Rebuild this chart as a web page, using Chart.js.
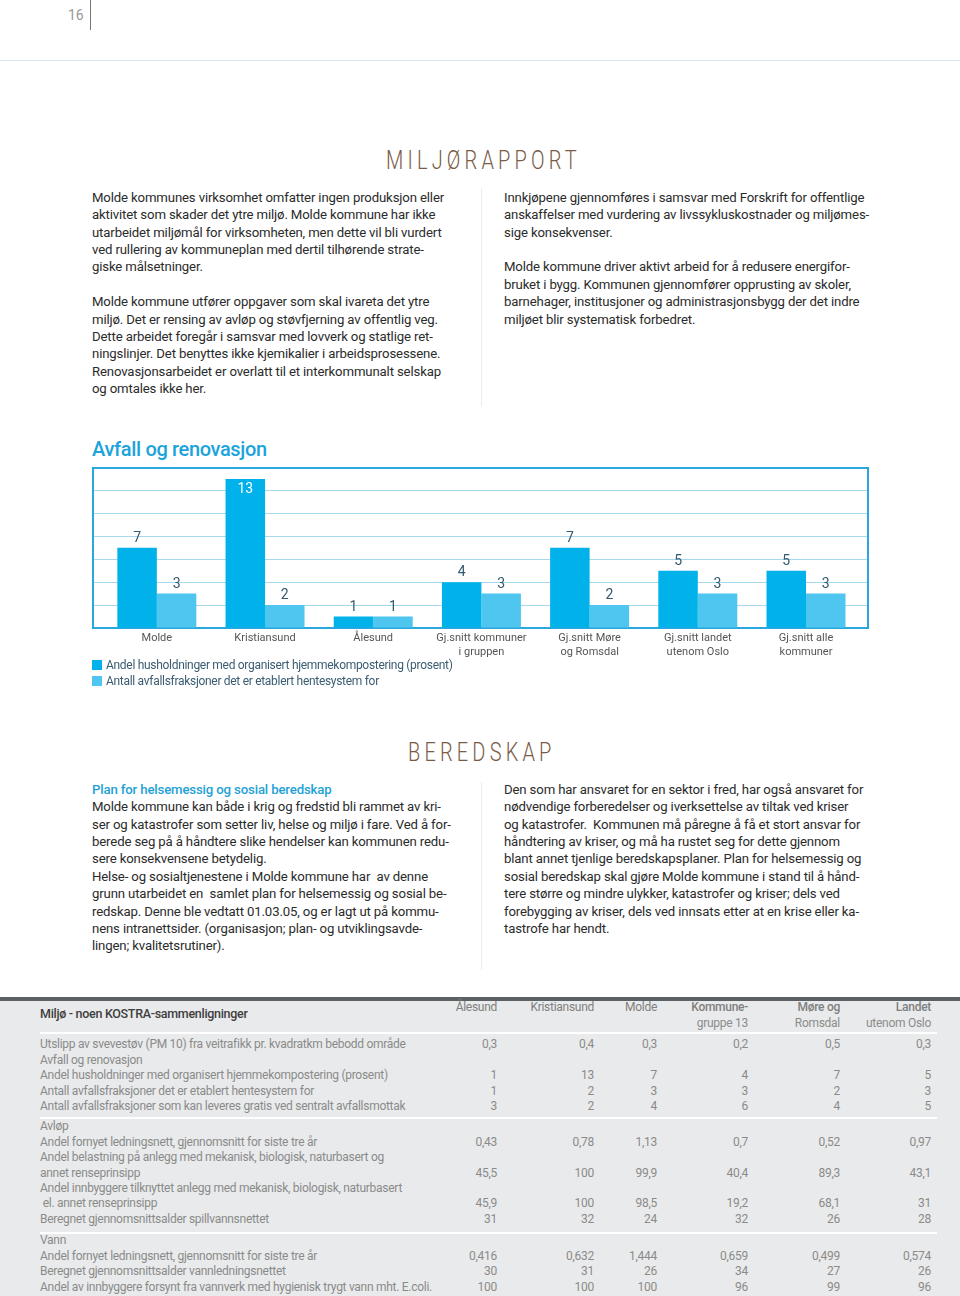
<!DOCTYPE html>
<html lang="no"><head><meta charset="utf-8">
<script src="https://cdn.jsdelivr.net/npm/chart.js@4.4.1/dist/chart.umd.min.js"></script>
<style>
html,body{margin:0;padding:0;background:#fff;}
body{width:960px;height:1296px;position:relative;overflow:hidden;font-family:Roboto,"Open Sans",sans-serif;}
.abs{position:absolute;white-space:nowrap;}
.txt{font-size:13.2px;line-height:17.4px;color:#2b2b2b;letter-spacing:-0.15px;}
.sec{font-size:25px;line-height:25px;font-weight:300;color:#7a5b47;letter-spacing:5.2px;transform:scaleX(0.8);transform-origin:0 0;}
.blue{color:#1ea1d6;font-weight:500;}
.vline{position:absolute;width:1px;background:#ececec;}
.tbl{font-size:12px;line-height:15.4px;color:#8a8a8a;letter-spacing:-0.28px;}
.num{text-align:right;width:90px;}
.leg{font-size:12px;line-height:16px;color:#3b5c72;letter-spacing:-0.3px;}
.sq{position:absolute;width:10px;height:10px;}
</style></head>
<body>
<!-- page header -->
<div class="abs" style="left:68px;top:6px;font-size:14px;line-height:18px;color:#999;">16</div>
<div style="position:absolute;left:90px;top:0;width:1px;height:30px;background:#777;"></div>
<div style="position:absolute;left:0;top:60px;width:960px;height:1px;background:#d9e8f0;"></div>

<div class="abs sec" style="left:386px;top:148px;">MILJØRAPPORT</div>

<div class="abs txt" style="left:92px;top:188.8px;">Molde kommunes virksomhet omfatter ingen produksjon eller<br>aktivitet som skader det ytre miljø. Molde kommune har ikke<br>utarbeidet miljømål for virksomheten, men dette vil bli vurdert<br>ved rullering av kommuneplan med dertil tilhørende strate-<br>giske målsetninger.<br>&nbsp;<br>Molde kommune utfører oppgaver som skal ivareta det ytre<br>miljø. Det er rensing av avløp og støvfjerning av offentlig veg.<br>Dette arbeidet foregår i samsvar med lovverk og statlige ret-<br>ningslinjer. Det benyttes ikke kjemikalier i arbeidsprosessene.<br>Renovasjonsarbeidet er overlatt til et interkommunalt selskap<br>og omtales ikke her.</div>
<div class="vline" style="left:481px;top:188px;height:218px;"></div>
<div class="abs txt" style="left:504px;top:188.8px;">Innkjøpene gjennomføres i samsvar med Forskrift for offentlige<br>anskaffelser med vurdering av livssykluskostnader og miljømes-<br>sige konsekvenser.<br>&nbsp;<br>Molde kommune driver aktivt arbeid for å redusere energifor-<br>bruket i bygg. Kommunen gjennomfører opprusting av skoler,<br>barnehager, institusjoner og administrasjonsbygg der det indre<br>miljøet blir systematisk forbedret.</div>

<!-- chart -->
<div class="abs" style="left:92px;top:436px;font-size:20px;line-height:26px;font-weight:500;color:#1ba3db;letter-spacing:-0.35px;">Avfall og renovasjon</div>
<div style="position:absolute;left:0;top:455px;width:960px;height:215px;"><canvas id="c"></canvas></div>
<div id="legend"></div>

<div class="abs sec" style="left:408px;top:740px;">BEREDSKAP</div>
<div class="abs txt" style="left:92px;top:780.8px;"><span class="blue">Plan for helsemessig og sosial beredskap</span><br>Molde kommune kan både i krig og fredstid bli rammet av kri-<br>ser og katastrofer som setter liv, helse og miljø i fare. Ved å for-<br>berede seg på å håndtere slike hendelser kan kommunen redu-<br>sere konsekvensene betydelig.<br>Helse- og sosialtjenestene i Molde kommune har &nbsp;av denne<br>grunn utarbeidet en &nbsp;samlet plan for helsemessig og sosial be-<br>redskap. Denne ble vedtatt 01.03.05, og er lagt ut på kommu-<br>nens intranettsider. (organisasjon; plan- og utviklingsavde-<br>lingen; kvalitetsrutiner).</div>
<div class="vline" style="left:481px;top:782px;height:188px;"></div>
<div class="abs txt" style="left:504px;top:780.8px;">Den som har ansvaret for en sektor i fred, har også ansvaret for<br>nødvendige forberedelser og iverksettelse av tiltak ved kriser<br>og katastrofer. &nbsp;Kommunen må påregne å få et stort ansvar for<br>håndtering av kriser, og må ha rustet seg for dette gjennom<br>blant annet tjenlige beredskapsplaner. Plan for helsemessig og<br>sosial beredskap skal gjøre Molde kommune i stand til å hånd-<br>tere større og mindre ulykker, katastrofer og kriser; dels ved<br>forebygging av kriser, dels ved innsats etter at en krise eller ka-<br>tastrofe har hendt.</div>

<!-- table -->
<div style="position:absolute;left:0;top:997px;width:960px;height:4px;background:#5b6065;"></div>
<div style="position:absolute;left:0;top:1001px;width:960px;height:295px;background:#e9eaeb;"></div>
<div id="table"></div>

<script>
// ---------- chart data ----------
const categories = ['Molde', 'Kristiansund', 'Ålesund', ['Gj.snitt kommuner', 'i gruppen'], ['Gj.snitt Møre', 'og Romsdal'], ['Gj.snitt landet', 'utenom Oslo'], ['Gj.snitt alle', 'kommuner']];
const seriesNames = ['Andel husholdninger med organisert hjemmekompostering (prosent)', 'Antall avfallsfraksjoner det er etablert hentesystem for'];
const kompostering = [7, 13, 1, 4, 7, 5, 5];
const fraksjoner = [3, 2, 1, 3, 2, 3, 3];
const yTicks = [0, 2, 4, 6, 8, 10, 12, 14];

// ---------- table data ----------
const tableTitle = 'Miljø - noen KOSTRA-sammenligninger';
const tableColumns = [['Ålesund'], ['Kristiansund'], ['Molde'], ['Kommune-', 'gruppe 13'], ['Møre og', 'Romsdal'], ['Landet', 'utenom Oslo']];
const utslippPM10 = ['0,3', '0,4', '0,3', '0,2', '0,5', '0,3'];
const hjemmekompostering = ['1', '13', '7', '4', '7', '5'];
const hentesystem = ['1', '2', '3', '3', '2', '3'];
const gratisMottak = ['3', '2', '4', '6', '4', '5'];
const fornyetAvlop = ['0,43', '0,78', '1,13', '0,7', '0,52', '0,97'];
const belastning = ['45,5', '100', '99,9', '40,4', '89,3', '43,1'];
const tilknyttet = ['45,9', '100', '98,5', '19,2', '68,1', '31'];
const alderSpillvann = ['31', '32', '24', '32', '26', '28'];
const fornyetVann = ['0,416', '0,632', '1,444', '0,659', '0,499', '0,574'];
const alderVann = ['30', '31', '26', '34', '27', '26'];
const ecoli = ['100', '100', '100', '96', '99', '96'];

const tableGroups = [
  [
    ['Utslipp av svevestøv (PM 10) fra veitrafikk pr. kvadratkm bebodd område', utslippPM10],
    ['Avfall og renovasjon', null],
    ['Andel husholdninger med organisert hjemmekompostering (prosent)', hjemmekompostering],
    ['Antall avfallsfraksjoner det er etablert hentesystem for', hentesystem],
    ['Antall avfallsfraksjoner som kan leveres gratis ved sentralt avfallsmottak', gratisMottak]
  ],
  [
    ['Avløp', null],
    ['Andel fornyet ledningsnett, gjennomsnitt for siste tre år', fornyetAvlop],
    ['Andel belastning på anlegg med mekanisk, biologisk, naturbasert og', null],
    ['annet renseprinsipp', belastning],
    ['Andel innbyggere tilknyttet anlegg med mekanisk, biologisk, naturbasert', null],
    ['\u00a0el. annet renseprinsipp', tilknyttet],
    ['Beregnet gjennomsnittsalder spillvannsnettet', alderSpillvann]
  ],
  [
    ['Vann', null],
    ['Andel fornyet ledningsnett, gjennomsnitt for siste tre år', fornyetVann],
    ['Beregnet gjennomsnittsalder vannledningsnettet', alderVann],
    ['Andel av innbyggere forsynt fra vannverk med hygienisk trygt vann mht. E.coli.', ecoli]
  ]
];

// ---------- colours ----------
const darkBlue = '#00b2e9';
const lightBlue = '#4fc6f0';
const frameBlue = '#2aa8de';
const gridBlue = '#a6d8ee';

// ---------- build table ----------
(function () {
  const host = document.getElementById('table');
  const colRight = [497, 594, 657, 748, 840, 931];
  const groupStart = [1045, 1127, 1241];
  const pitch = 15.4;
  let html = '';
  html += `<div class="abs" style="left:40px;top:1004.5px;font-size:12.5px;line-height:17px;font-weight:500;color:#3e3e3e;letter-spacing:-0.3px;">${tableTitle}</div>`;
  tableColumns.forEach((c, i) => {
    html += `<div class="abs tbl num" style="left:${colRight[i] - 90}px;top:1000.3px;color:#808080;${c[1] ? 'font-weight:500;' : ''}">${c[0]}</div>`;
    if (c[1]) html += `<div class="abs tbl num" style="left:${colRight[i] - 90}px;top:1016.3px;color:#8c8c8c;">${c[1]}</div>`;
  });
  [1032, 1116.5, 1231.5].forEach(y => {
    html += `<div style="position:absolute;left:40px;top:${y}px;width:897px;height:2px;background:#fff;"></div>`;
  });
  tableGroups.forEach((g, gi) => {
    g.forEach((row, ri) => {
      const yc = groupStart[gi] + ri * pitch;
      html += `<div class="abs tbl" style="left:40px;top:${yc - 7.7}px;">${row[0]}</div>`;
      if (row[1]) row[1].forEach((v, ci) => {
        html += `<div class="abs tbl num" style="left:${colRight[ci] - 90}px;top:${yc - 7.7}px;">${v}</div>`;
      });
    });
  });
  host.innerHTML = html;
})();

// ---------- legend ----------
(function () {
  const host = document.getElementById('legend');
  const cols = [darkBlue, lightBlue];
  const ys = [665, 681];
  host.innerHTML = seriesNames.map((n, i) =>
    `<div class="sq" style="left:92px;top:${ys[i] - 5}px;background:${cols[i]};"></div>` +
    `<div class="abs leg" style="left:106px;top:${ys[i] - 8}px;">${n}</div>`).join('');
})();

// ---------- chart ----------
const valueLabels = {
  id: 'valueLabels',
  afterDatasetsDraw(chart) {
    const ctx = chart.ctx;
    ctx.save();
    ctx.font = '14px Roboto, "Open Sans", sans-serif';
    ctx.textAlign = 'center';
    ctx.textBaseline = 'middle';
    chart.data.datasets.forEach((ds, di) => {
      const meta = chart.getDatasetMeta(di);
      meta.data.forEach((bar, i) => {
        const v = ds.data[i];
        const top = bar.y;
        if (top - 20 < chart.chartArea.top) {
          ctx.fillStyle = '#ffffff';
          ctx.fillText(String(v), bar.x, top + 10.5);
        } else {
          ctx.fillStyle = '#33586f';
          ctx.fillText(String(v), bar.x, top - 9.5);
        }
      });
    });
    ctx.restore();
  }
};

Chart.defaults.font.family = 'Roboto, "Open Sans", sans-serif';
new Chart(document.getElementById('c'), {
  type: 'bar',
  data: {
    labels: categories,
    datasets: [
      { label: seriesNames[0], data: kompostering, backgroundColor: darkBlue, categoryPercentage: 0.73, barPercentage: 1.0, borderWidth: 0 },
      { label: seriesNames[1], data: fraksjoner, backgroundColor: lightBlue, categoryPercentage: 0.73, barPercentage: 1.0, borderWidth: 0 }
    ]
  },
  options: {
    responsive: true,
    maintainAspectRatio: false,
    animation: false,
    layout: { padding: { left: 93, right: 92, top: 12.5, bottom: 2 } },
    plugins: { legend: { display: false }, tooltip: { enabled: false } },
    scales: {
      x: {
        type: 'category',
        position: 'bottom',
        grid: { display: false, drawTicks: false },
        border: { display: true, color: frameBlue, width: 2 },
        ticks: { color: '#555', font: { size: 11, lineHeight: 1.27 }, padding: 3, maxRotation: 0, autoSkip: false },
        afterBuildTicks: s => { s._startValue = -0.59; s._valueRange = 7.163; },
        afterFit: s => { s.height = 40; }
      },
      y: {
        position: 'left',
        min: 0, max: 14,
        afterBuildTicks: s => { s.ticks = yTicks.map(v => ({ value: v })); },
        grid: { color: gridBlue, lineWidth: 1, drawTicks: false },
        border: { display: true, color: frameBlue, width: 2 },
        ticks: { display: false }
      },
      x2: {
        type: 'linear', position: 'top',
        grid: { display: false, drawTicks: false },
        border: { display: true, color: frameBlue, width: 2 },
        ticks: { display: false }
      },
      y2: {
        type: 'linear', position: 'right',
        grid: { display: false, drawTicks: false },
        border: { display: true, color: frameBlue, width: 2 },
        ticks: { display: false }
      }
    }
  },
  plugins: [valueLabels]
});
</script>
</body></html>
